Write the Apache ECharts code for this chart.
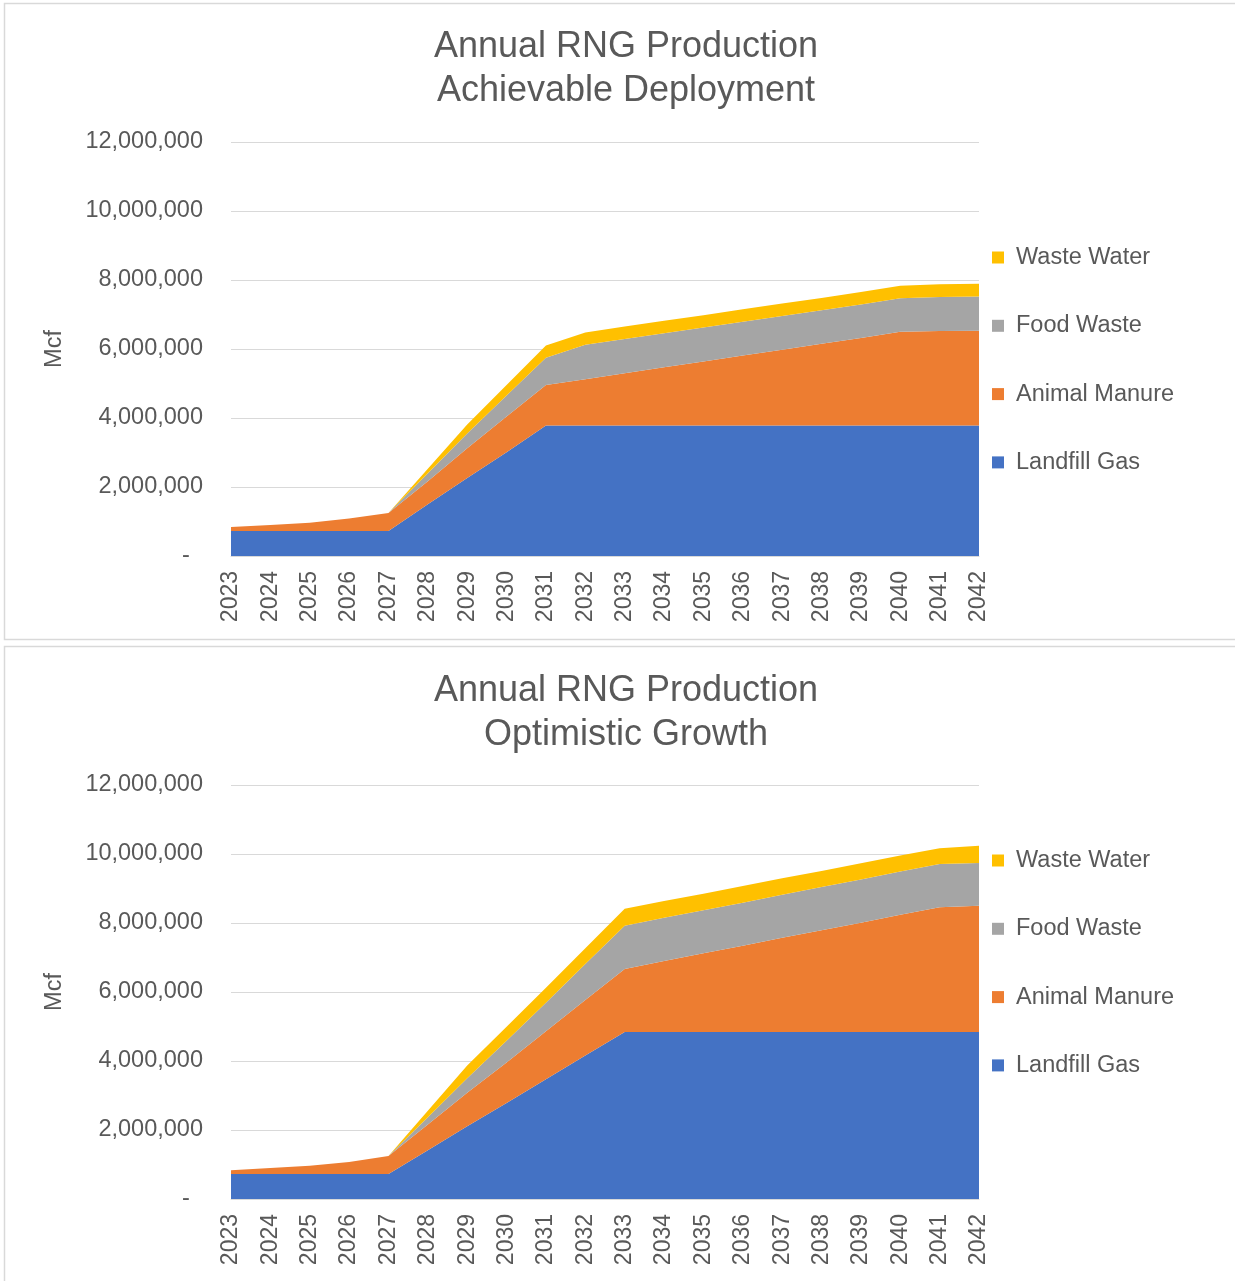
<!DOCTYPE html>
<html><head><meta charset="utf-8">
<script src="https://cdn.jsdelivr.net/npm/echarts@6/dist/echarts.min.js"></script>
<style>html,body{margin:0;padding:0;background:#fff}#c{width:1235px;height:1281px}</style>
</head><body><div id="c"></div>
<script>
// ---- data ----
const years = ['2023','2024','2025','2026','2027','2028','2029','2030','2031','2032',
               '2033','2034','2035','2036','2037','2038','2039','2040','2041','2042'];
const legendOrder = ['Waste Water','Food Waste','Animal Manure','Landfill Gas'];
const yTicks = [0, 2000000, 4000000, 6000000, 8000000, 10000000, 12000000];

const titleA = 'Annual RNG Production\nAchievable Deployment';
const landfillA = [725000,725000,725000,725000,725000,1500000,2260000,3010000,3780000,3780000,
                   3780000,3780000,3780000,3780000,3780000,3780000,3780000,3780000,3780000,3780000];
const manureA   = [115000,175000,240000,360000,520000,670000,860000,1030000,1180000,1340000,
                   1520000,1690000,1860000,2030000,2200000,2370000,2540000,2720000,2740000,2750000];
const foodA     = [0,0,0,0,0,230000,430000,610000,790000,1000000,
                   990000,990000,980000,980000,980000,970000,970000,970000,990000,990000];
const waterA    = [0,0,0,0,0,130000,260000,310000,350000,360000,
                   360000,360000,360000,360000,360000,360000,360000,360000,370000,370000];

const titleB = 'Annual RNG Production\nOptimistic Growth';
const landfillB = [725000,725000,725000,725000,725000,1410000,2110000,2780000,3470000,4160000,
                   4840000,4840000,4840000,4840000,4840000,4840000,4840000,4840000,4840000,4840000];
const manureB   = [110000,170000,240000,350000,525000,750000,970000,1180000,1390000,1610000,
                   1830000,2060000,2280000,2500000,2730000,2950000,3170000,3400000,3620000,3660000];
const foodB     = [0,0,0,0,0,210000,420000,630000,830000,1040000,
                   1250000,1250000,1250000,1250000,1250000,1250000,1250000,1250000,1250000,1240000];
const waterB    = [0,0,0,0,0,190000,370000,400000,430000,460000,
                   490000,490000,480000,480000,480000,470000,470000,470000,460000,500000];

// ---- chart ----
const FONT = '"Liberation Sans", Arial, Helvetica, sans-serif';
const TXT = '#595959';
const GRID = '#d9d9d9';
const colors = {'Landfill Gas':'#4472C4','Animal Manure':'#ED7D31','Food Waste':'#A5A5A5','Waste Water':'#FFC000'};

function fmt(v){ return v === 0 ? '-  ' : v.toLocaleString('en-US'); }

function axesFor(i){
  const x = {
    type:'category', gridIndex:i, data:years, boundaryGap:false,
    axisLine:{show:true, lineStyle:{color:GRID, width:1}},
    axisTick:{show:false},
    axisLabel:{rotate:90, interval:0, margin:15, color:TXT, fontSize:23, fontFamily:FONT}
  };
  const y = {
    type:'value', gridIndex:i, min:0, max:12000000, interval:2000000,
    name:'Mcf', nameLocation:'middle', nameGap:164, nameRotate:90,
    nameTextStyle:{color:TXT, fontSize:23.5, fontFamily:FONT},
    axisLine:{show:false}, axisTick:{show:false},
    splitLine:{lineStyle:{color:GRID, width:1}},
    axisLabel:{margin:28, color:TXT, fontSize:23.5, fontFamily:FONT, formatter:fmt, padding:[4,0,0,0]}
  };
  return [x,y];
}

function seriesFor(i, data){
  const names = ['Landfill Gas','Animal Manure','Food Waste','Waste Water'];
  return names.map((n,k)=>({
    name:n, type:'line', stack:'s'+i, xAxisIndex:i, yAxisIndex:i,
    data:data[k], symbol:'none', smooth:false,
    lineStyle:{width:0}, areaStyle:{color:colors[n], opacity:1},
    itemStyle:{color:colors[n]},
    emphasis:{disabled:true}
  }));
}

const [xa, ya] = axesFor(0);
const [xb, yb] = axesFor(1);

const legendBase = {
  orient:'vertical', left:992, padding:0, itemWidth:12, itemHeight:12, itemGap:44.3,
  icon:'rect', data:legendOrder, selectedMode:false,
  textStyle:{color:TXT, fontSize:23.5, fontFamily:FONT, lineHeight:24, padding:[0,0,0,7]}
};

const option = {
  animation:false,
  backgroundColor:'#fff',
  graphic:[
    {type:'rect', shape:{x:4.5, y:3.5, width:1250, height:636}, style:{fill:'none', stroke:GRID, lineWidth:1.5}, silent:true, z:-1},
    {type:'rect', shape:{x:4.5, y:646.5, width:1250, height:650}, style:{fill:'none', stroke:GRID, lineWidth:1.5}, silent:true, z:-1}
  ],
  title:[
    {text:titleA, left:626, top:25, textAlign:'center', padding:0,
     textStyle:{color:TXT, fontSize:36, fontWeight:'normal', fontFamily:FONT, lineHeight:44}},
    {text:titleB, left:626, top:669, textAlign:'center', padding:0,
     textStyle:{color:TXT, fontSize:36, fontWeight:'normal', fontFamily:FONT, lineHeight:44}}
  ],
  legend:[
    Object.assign({}, legendBase, {top:245.5}),
    Object.assign({}, legendBase, {top:848.5})
  ],
  grid:[
    {left:231, top:142, width:748, height:414, containLabel:false},
    {left:231, top:785, width:748, height:414, containLabel:false}
  ],
  xAxis:[xa, xb],
  yAxis:[ya, yb],
  series:[].concat(
    seriesFor(0,[landfillA, manureA, foodA, waterA]),
    seriesFor(1,[landfillB, manureB, foodB, waterB])
  )
};

const chart = echarts.init(document.getElementById('c'), null, {renderer:'canvas'});
chart.setOption(option);
</script>
</body></html>
